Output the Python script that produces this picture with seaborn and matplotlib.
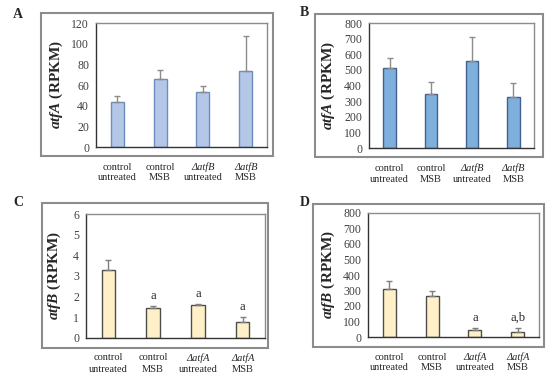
import numpy as np
import pandas as pd
import matplotlib
matplotlib.use('Agg')
import matplotlib.pyplot as plt
import seaborn as sns
from matplotlib.patches import Rectangle

sns.set_style('white')
plt.rcParams['font.family'] = ['Liberation Serif', 'DejaVu Serif']
plt.rcParams['mathtext.fontset'] = 'custom'
plt.rcParams['mathtext.bfit'] = 'Liberation Serif:italic:bold'
plt.rcParams['mathtext.it'] = 'Liberation Serif:italic'
plt.rcParams['mathtext.rm'] = 'Liberation Serif'

# dados
grupos = ['control\nuntreated', 'control\nMSB', 'mut\nuntreated', 'mut\nMSB']
linha1_A = ['control', 'control', 'ΔatfB', 'ΔatfB']
linha1_C = ['control', 'control', 'ΔatfA', 'ΔatfA']
linha2 = ['untreated', 'MSB', 'untreated', 'MSB']

atfA_a = [43.5, 65.5, 53.5, 73.5]
atfA_a_err = [49.5, 75, 59.5, 107]
atfA_b = [512, 348, 560, 326]
atfA_b_err = [578, 425, 713, 415]
atfB_c = [3.27, 1.46, 1.58, 0.78]
atfB_c_err = [3.76, 1.54, 1.63, 1.0]
atfB_d = [310, 267, 48, 32]
atfB_d_err = [363, 297, 55, 59]
letras_c = ['', 'a', 'a', 'a']
letras_d = ['', '', 'a', 'a,b']

W, H = 550, 381
fig = plt.figure(figsize=(5.5, 3.81), dpi=100)


def caixa(l, t, r, b):
    return [l / W, 1 - b / H, (r - l) / W, (b - t) / H]


paineis = [
    dict(nome='A', inner=(96, 23, 267, 147), outer=(41, 13, 273, 156), lab=(13, 14),
         vals=atfA_a, err=atfA_a_err, ymax=120, step=20, fc='#b4c7e7', ec='#6f8cbf',
         ecol='#8c8c8c', gene='atfA', l1=linha1_A, letras=None, ylx=31),
    dict(nome='B', inner=(369, 23, 534, 148), outer=(315, 14, 543, 157), lab=(300, 13),
         vals=atfA_b, err=atfA_b_err, ymax=800, step=100, fc='#7fb0dd', ec='#41628c',
         ecol='#8c8c8c', gene='atfA', l1=linha1_A, letras=None, ylx=32),
    dict(nome='C', inner=(86, 214, 265, 338), outer=(42, 203, 268, 348), lab=(13, 203),
         vals=atfB_c, err=atfB_c_err, ymax=6, step=1, fc='#fff0c8', ec='#4d4d4d',
         ecol='#7f7f7f', gene='atfB', l1=linha1_C, letras=letras_c, ylx=23),
    dict(nome='D', inner=(368, 213, 539, 337), outer=(313, 204, 544, 347), lab=(300, 203),
         vals=atfB_d, err=atfB_d_err, ymax=800, step=100, fc='#fff0c8', ec='#4d4d4d',
         ecol='#7f7f7f', gene='atfB', l1=linha1_C, letras=letras_d, ylx=31),
]

for p in paineis:
    l, t, r, b = p['outer']
    fig.patches.append(Rectangle((l / W, 1 - b / H), (r - l) / W, (b - t) / H,
                                 transform=fig.transFigure, fill=False,
                                 edgecolor='#8c8c8c', lw=1.5, zorder=0))
    fig.text(p['lab'][0] / W, 1 - p['lab'][1] / H, p['nome'], fontsize=10,
             fontweight='bold', ha='left', va='center')

    ax = fig.add_axes(caixa(*p['inner']))
    df = pd.DataFrame({'grupo': grupos, 'valor': p['vals']})
    sns.barplot(data=df, x='grupo', y='valor', ax=ax, width=0.3, color=p['fc'],
                edgecolor=p['ec'], linewidth=1.0, errorbar=None, saturation=1)
    vals = np.array(p['vals'])
    sup = np.array(p['err']) - vals
    ax.errorbar(np.arange(4), vals, yerr=[np.zeros(4), sup], fmt='none',
                ecolor=p['ecol'], elinewidth=1.0, capsize=2.5, capthick=1.0, zorder=1)
    ax.set_ylim(0, p['ymax'])
    ax.set_xlim(-0.5, 3.5)
    ax.set_yticks(np.arange(0, p['ymax'] + p['step'] / 2, p['step']))
    ax.tick_params(axis='y', length=0, labelsize=8.5, labelcolor='#404040', pad=5)
    ax.set_xticks([])
    ax.set_xlabel('')
    ax.set_ylabel(r'$\mathbfit{' + p['gene'] + r'}$ (RPKM)', fontsize=11,
                  fontweight='bold')
    ax.yaxis.set_label_coords(-p['ylx'] / (p['inner'][2] - p['inner'][0]), 0.5)
    for s in ['left', 'bottom']:
        ax.spines[s].set_color('#333333')
        ax.spines[s].set_linewidth(1.0)
    for s in ['top', 'right']:
        ax.spines[s].set_color('#8c8c8c')
        ax.spines[s].set_linewidth(1.0)

    for i in range(4):
        estilo = 'italic' if p['l1'][i].startswith('Δ') else 'normal'
        ax.annotate(p['l1'][i], xy=(i, 0), xycoords=('data', 'axes fraction'),
                    xytext=(0, -20), textcoords='offset pixels', ha='center',
                    va='center', fontsize=7.5, style=estilo, annotation_clip=False)
        ax.annotate(linha2[i], xy=(i, 0), xycoords=('data', 'axes fraction'),
                    xytext=(0, -31), textcoords='offset pixels', ha='center',
                    va='center', fontsize=7.5, annotation_clip=False)
        if p['letras'] and p['letras'][i]:
            ax.annotate(p['letras'][i], xy=(i, p['err'][i]), xytext=(0, 10),
                        textcoords='offset pixels', ha='center', va='center',
                        fontsize=9)

fig.savefig('out.png', dpi=100)
